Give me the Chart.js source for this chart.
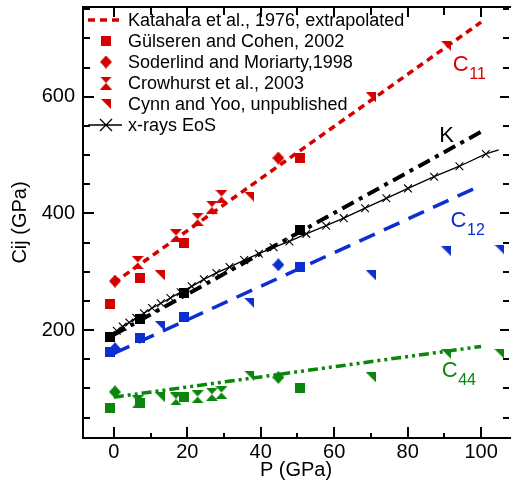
<!DOCTYPE html>
<html>
<head>
<meta charset="utf-8">
<script src="https://cdn.jsdelivr.net/npm/chart.js@4.4.0/dist/chart.umd.min.js"></script>
<style>
  html, body { margin: 0; padding: 0; background: #fff; }
</style>
</head>
<body>
<canvas id="graficaCij" width="516" height="504"></canvas>
<script>
// Katahara et al. 1976, extrapolated (lineas)
var pKatahara = [0, 100];
var c11Katahara = [281, 728];
var c12Katahara = [160, 448];
var c44Katahara = [85, 172];
var kKatahara = [192, 540];

// Gulseren and Cohen, 2002
var pGulseren = [-1, 7.2, 19, 50.6];
var c11Gulseren = [244, 290, 349, 495];
var c12Gulseren = [162, 186, 222, 309];
var c44Gulseren = [66, 75, 85, 100];
var kGulseren = [189, 219, 264, 372];

// Soderlind and Moriarty, 1998
var pSoderlind = [0.3, 44.8];
var c11Soderlind = [284, 495];
var c12Soderlind = [168, 312];
var c44Soderlind = [94, 119];

// Crowhurst et al., 2003
var pCrowhurst = [6.5, 16.9, 22.8, 26.7, 29.3];
var c11Crowhurst = [316, 362, 390, 411, 429];
var c44Crowhurst = [77, 82, 86, 90, 93];

// Cynn and Yoo, unpublished
var pCynn = [12.5, 36.8, 70, 90.5, 105];
var c11Cynn = [294, 429, 599, 687, null];
var c12Cynn = [207, 247, 294, 335, 338];
var c44Cynn = [85, 122, 119, 159, 159];

// x-rays EoS
var pEos = [-1, 0.8, 2.4, 4.2, 6.1, 8.2, 10.4, 12.8, 15.4, 18.2, 21.2, 24.5, 27.9, 31.5, 35.5, 39.5, 43.5, 47.8, 52.4, 57.8, 62.6, 68.4, 74.2, 80.1, 87.2, 94.1, 101.3, 104.8];
var kEos = [193, 199, 206, 213, 221, 229, 238, 246, 255, 265, 275, 287, 298, 308, 320, 331, 342, 352, 365, 379, 392, 409, 426, 443, 463, 481, 502, 509];

var xTicks = [0, 20, 40, 60, 80, 100];
var yTicks = [200, 400, 600];

var ROJO = '#d40000';
var AZUL = '#0b2fd0';
var VERDE = '#0a870a';
var FUENTE = '"Liberation Sans", Arial, Helvetica, sans-serif';

function puntos(xs, ys) {
    return xs.map(function (x, i) { return { x: x, y: ys[i] }; })
             .filter(function (d) { return d.y !== null; });
}

// Marcadores dibujados en canvas pequenos
function marcador(forma, color) {
    var c = document.createElement('canvas');
    var w = 12, h = 12;
    if (forma === 'square') { w = 10; h = 10; }
    if (forma === 'diamond') { w = 12; h = 13; }
    if (forma === 'hourglass') { w = 12; h = 13; }
    if (forma === 'triangle') { w = 10; h = 10; }
    c.width = w; c.height = h;
    var g = c.getContext('2d');
    g.fillStyle = color;
    g.beginPath();
    if (forma === 'square') {
        g.rect(0, 0, w, h);
    } else if (forma === 'diamond') {
        g.moveTo(w / 2, 0); g.lineTo(w, h / 2); g.lineTo(w / 2, h); g.lineTo(0, h / 2);
    } else if (forma === 'hourglass') {
        g.moveTo(0, 0); g.lineTo(w, 0); g.lineTo(w / 2, h / 2); g.closePath();
        g.moveTo(w / 2, h / 2); g.lineTo(w, h); g.lineTo(0, h); g.closePath();
    } else if (forma === 'triangle') {
        g.moveTo(0, 0); g.lineTo(w, 0); g.lineTo(w, h);
    }
    g.closePath();
    g.fill();
    return c;
}

var mk = {};
[['r', ROJO], ['b', AZUL], ['g', VERDE], ['k', '#000']].forEach(function (p) {
    mk[p[0]] = {
        square: marcador('square', p[1]),
        diamond: marcador('diamond', p[1]),
        hourglass: marcador('hourglass', p[1]),
        triangle: marcador('triangle', p[1])
    };
});

function linea(xs, ys, color, dash, ancho) {
    return {
        data: puntos(xs, ys), showLine: true, borderColor: color, borderWidth: ancho,
        borderDash: dash, pointRadius: 0, pointHoverRadius: 0, fill: false
    };
}
function simbolos(xs, ys, estilo) {
    return {
        data: puntos(xs, ys), showLine: false, pointStyle: estilo,
        pointRadius: 6, pointHoverRadius: 6
    };
}

var datasets = [
    linea(pKatahara, c11Katahara, ROJO, [7, 5], 3.5),
    linea(pKatahara, c12Katahara, AZUL, [17, 10], 3.5),
    linea(pKatahara, c44Katahara, VERDE, [10, 4, 3, 4, 3, 4], 3.5),
    linea(pKatahara, kKatahara, '#000', [13, 6, 4, 6], 4),
    {
        data: puntos(pEos, kEos), showLine: true, borderColor: '#000', borderWidth: 1.3,
        pointStyle: 'crossRot', pointBorderColor: '#000', pointBorderWidth: 1.1,
        pointRadius: pEos.map(function (p, i) { return i === 0 || i === pEos.length - 1 ? 0 : 5.5; })
    },
    simbolos(pGulseren, c11Gulseren, mk.r.square),
    simbolos(pGulseren, c12Gulseren, mk.b.square),
    simbolos(pGulseren, c44Gulseren, mk.g.square),
    simbolos(pGulseren, kGulseren, mk.k.square),
    simbolos(pSoderlind, c11Soderlind, mk.r.diamond),
    simbolos(pSoderlind, c12Soderlind, mk.b.diamond),
    simbolos(pSoderlind, c44Soderlind, mk.g.diamond),
    simbolos(pCrowhurst, c11Crowhurst, mk.r.hourglass),
    simbolos(pCrowhurst, c44Crowhurst, mk.g.hourglass),
    simbolos(pCynn, c11Cynn, mk.r.triangle),
    simbolos(pCynn, c12Cynn, mk.b.triangle),
    simbolos(pCynn, c44Cynn, mk.g.triangle)
];

// Etiquetas de las curvas
var etiquetas = [
    { texto: 'C', sub: '11', p: 92.3, v: 645, color: ROJO },
    { texto: 'K', sub: '', p: 88.6, v: 522, color: '#000' },
    { texto: 'C', sub: '12', p: 91.7, v: 376, color: AZUL },
    { texto: 'C', sub: '44', p: 89.3, v: 119, color: VERDE }
];

var leyenda = [
    { tipo: 'dash', texto: 'Katahara et al., 1976, extrapolated' },
    { tipo: 'square', texto: 'G\u00fclseren and Cohen, 2002' },
    { tipo: 'diamond', texto: 'Soderlind and Moriarty,1998' },
    { tipo: 'hourglass', texto: 'Crowhurst et al., 2003' },
    { tipo: 'triangle', texto: 'Cynn and Yoo, unpublished' },
    { tipo: 'eos', texto: 'x-rays EoS' }
];

var marcoPlugin = {
    id: 'marco',
    afterDraw: function (chart) {
        var ctx = chart.ctx, a = chart.chartArea, x = chart.scales.x, y = chart.scales.y;
        ctx.save();
        ctx.strokeStyle = '#000';
        ctx.lineWidth = 2;
        ctx.beginPath();
        ctx.moveTo(a.right + 2, a.top); ctx.lineTo(a.left, a.top);
        ctx.lineTo(a.left, a.bottom); ctx.lineTo(a.right + 2, a.bottom);
        var v, px, mayor;
        for (v = 0; v <= 100; v += 10) {
            px = Math.round(x.getPixelForValue(v));
            mayor = v % 20 === 0;
            ctx.moveTo(px, a.bottom); ctx.lineTo(px, a.bottom - (mayor ? 11 : 5));
            ctx.moveTo(px, a.top); ctx.lineTo(px, a.top + (mayor ? 10 : 8));
        }
        for (v = 50; v <= 750; v += 50) {
            px = Math.round(y.getPixelForValue(v));
            mayor = v % 200 === 0;
            ctx.moveTo(a.left, px); ctx.lineTo(a.left + (mayor ? 11 : 7), px);
            ctx.moveTo(a.right, px); ctx.lineTo(a.right - (mayor ? 9 : 6), px);
        }
        ctx.stroke();

        // leyenda
        ctx.textBaseline = 'middle';
        ctx.textAlign = 'left';
        ctx.font = '18px ' + FUENTE;
        var filas = [20, 41, 62, 83, 104, 125];
        leyenda.forEach(function (it, i) {
            var cy = filas[i];
            if (it.tipo === 'dash') {
                ctx.strokeStyle = ROJO; ctx.lineWidth = 3.5; ctx.setLineDash([7, 5]);
                ctx.beginPath(); ctx.moveTo(88, cy); ctx.lineTo(122, cy); ctx.stroke();
                ctx.setLineDash([]);
            } else if (it.tipo === 'eos') {
                ctx.strokeStyle = '#000'; ctx.lineWidth = 1.3;
                ctx.beginPath(); ctx.moveTo(88, cy); ctx.lineTo(122, cy);
                ctx.moveTo(100, cy - 6); ctx.lineTo(112, cy + 6);
                ctx.moveTo(100, cy + 6); ctx.lineTo(112, cy - 6);
                ctx.stroke();
            } else {
                var im = mk.r[it.tipo];
                ctx.drawImage(im, 106 - im.width / 2, cy - im.height / 2);
            }
            ctx.fillStyle = '#000';
            ctx.fillText(it.texto, 128, cy + 1);
        });

        // etiquetas C11, K, C12, C44
        ctx.textBaseline = 'alphabetic';
        etiquetas.forEach(function (e) {
            var ex = x.getPixelForValue(e.p), ey = y.getPixelForValue(e.v);
            ctx.fillStyle = e.color;
            ctx.font = '22px ' + FUENTE;
            ctx.fillText(e.texto, ex, ey);
            var w = ctx.measureText(e.texto).width;
            if (e.sub) {
                ctx.font = '16px ' + FUENTE;
                ctx.fillText(e.sub, ex + w + 0.5, ey + 8);
            }
        });
        ctx.restore();
    }
};

function sinRelleno(s) {
    s.paddingTop = 0; s.paddingBottom = 0; s.paddingLeft = 0; s.paddingRight = 0;
}

var ctx = document.getElementById('graficaCij').getContext('2d');
var grafica = new Chart(ctx, {
    type: 'scatter',
    data: { datasets: datasets },
    options: {
        responsive: false,
        animation: false,
        events: [],
        layout: { padding: { top: 4, right: -3, left: 0, bottom: 0 } },
        plugins: { legend: { display: false }, tooltip: { enabled: false } },
        scales: {
            x: {
                type: 'linear', min: -8.4, max: 107.6,
                grid: { display: false, drawTicks: false },
                border: { display: false },
                afterBuildTicks: function (s) { s.ticks = xTicks.map(function (v) { return { value: v }; }); },
                afterFit: function (s) { s.height = 66; sinRelleno(s); },
                ticks: { color: '#000', padding: 2, maxRotation: 0, font: { family: FUENTE, size: 20 } },
                title: { display: true, text: 'P (GPa)', color: '#000', font: { family: FUENTE, size: 20 }, padding: { top: 0, bottom: 22 } }
            },
            y: {
                type: 'linear', min: 15, max: 754,
                grid: { display: false, drawTicks: false },
                border: { display: false },
                afterBuildTicks: function (s) { s.ticks = yTicks.map(function (v) { return { value: v }; }); },
                afterFit: function (s) { s.width = 83; sinRelleno(s); },
                ticks: { color: '#000', padding: 8, font: { family: FUENTE, size: 20 } },
                title: { display: true, text: 'Cij (GPa)', color: '#000', font: { family: FUENTE, size: 20 }, padding: { top: 8, bottom: 0 } }
            }
        }
    },
    plugins: [marcoPlugin]
});
</script>
</body>
</html>
